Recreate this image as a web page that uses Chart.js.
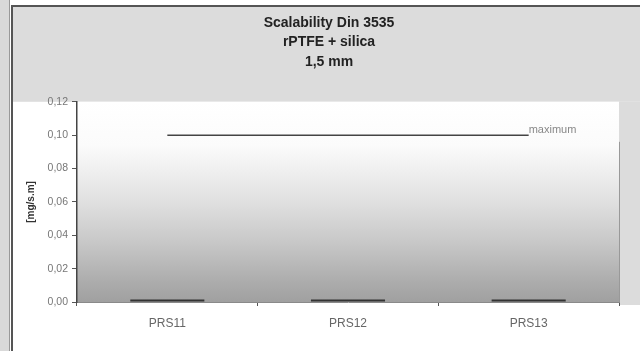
<!DOCTYPE html>
<html>
<head>
<meta charset="utf-8">
<script src="https://cdn.jsdelivr.net/npm/chart.js@4.4.1/dist/chart.umd.min.js"></script>
<style>
  html, body { margin: 0; padding: 0; background: #fff; }
  #wrap { width: 640px; height: 351px; }
</style>
</head>
<body>
<div id="wrap"><canvas id="c" width="640" height="351"></canvas></div>
<script>
'use strict';

// Scanned Excel chart: sealability per sample, with the 0,10 limit drawn as a line
const titleLines = ['Scalability Din 3535', 'rPTFE + silica', '1,5 mm'];
const samples = ['PRS11', 'PRS12', 'PRS13'];
const leakValues = [0.0015, 0.0015, 0.0015];
const maxValues = [0.10, 0.10, 0.10];
const maxLabel = 'maximum';
const yTicks = [0, 0.02, 0.04, 0.06, 0.08, 0.10, 0.12];
const yTitle = '[mg/s.m]';

function commaNum(v) {
  return v.toFixed(2).replace('.', ',');
}

// paper background, frame lines and the grey fade of the plot area
const backdrop = {
  id: 'backdrop',
  beforeDraw(chart) {
    const { ctx, chartArea: a, width, height } = chart;
    ctx.save();
    ctx.fillStyle = '#ffffff';
    ctx.fillRect(0, 0, width, height);
    ctx.fillStyle = '#d9d9d9';
    ctx.fillRect(0, 0, 9, height);
    ctx.fillStyle = '#dcdcdc';
    ctx.fillRect(13, 7, width - 13, a.top - 7);
    ctx.fillRect(a.right, a.top, width - a.right, a.bottom - a.top + 3);

    const g = ctx.createLinearGradient(0, a.top, 0, a.bottom);
    g.addColorStop(0, '#ffffff');
    g.addColorStop(0.22, '#fbfbfb');
    g.addColorStop(0.5, '#e0e0e0');
    g.addColorStop(0.7, '#c8c8c8');
    g.addColorStop(0.9, '#acacac');
    g.addColorStop(1, '#a0a0a0');
    ctx.fillStyle = g;
    ctx.fillRect(a.left, a.top, a.right - a.left, a.bottom - a.top);

    ctx.strokeStyle = '#555';
    ctx.lineWidth = 2;
    ctx.beginPath();
    ctx.moveTo(11, 6); ctx.lineTo(width, 6);
    ctx.moveTo(12, 5); ctx.lineTo(12, height);
    ctx.stroke();
    ctx.strokeStyle = '#999';
    ctx.lineWidth = 1;
    ctx.beginPath();
    ctx.moveTo(9.5, 0); ctx.lineTo(9.5, height);
    ctx.moveTo(a.right + 0.5, a.top + 40); ctx.lineTo(a.right + 0.5, a.bottom + 4);
    ctx.stroke();
    ctx.restore();
  },
  afterDatasetsDraw(chart) {
    const meta = chart.getDatasetMeta(1);
    const last = meta.data[meta.data.length - 1];
    if (!last) return;
    const { ctx } = chart;
    ctx.save();
    ctx.font = '11px "Liberation Sans", Arial, sans-serif';
    ctx.fillStyle = '#888';
    ctx.textAlign = 'left';
    ctx.textBaseline = 'middle';
    ctx.fillText(maxLabel, last.x, last.y - 5);
    ctx.restore();
  }
};

new Chart(document.getElementById('c'), {
  type: 'bar',
  data: {
    labels: samples,
    datasets: [{
      label: 'leakage',
      data: leakValues,
      backgroundColor: '#333333',
      borderWidth: 0,
      categoryPercentage: 1,
      barPercentage: 0.41,
      order: 2,
    }, {
      type: 'line',
      label: maxLabel,
      data: maxValues,
      borderColor: '#444444',
      borderWidth: 1.5,
      pointRadius: 0,
      fill: false,
      order: 1,
    }],
  },
  options: {
    responsive: false,
    animation: false,
    devicePixelRatio: 1,
    layout: { padding: { left: 18, right: 0, top: 0, bottom: 0 } },
    plugins: {
      legend: { display: false },
      tooltip: { enabled: false },
      title: {
        display: true,
        text: titleLines,
        color: '#222',
        font: { family: '"Liberation Sans", Arial, sans-serif', size: 14, weight: 'bold', lineHeight: 1.4 },
        padding: { top: 13, bottom: 30 },
      },
    },
    scales: {
      x: {
        offset: true,
        grid: { display: true, drawOnChartArea: false, offset: true, tickLength: 4, color: '#555' },
        border: { display: true, color: '#8a8a8a', width: 1 },
        ticks: { color: '#666', padding: 10, font: { family: '"Liberation Sans", Arial, sans-serif', size: 12 } },
        afterFit: (s) => { s.height = 49; },
      },
      y: {
        min: 0,
        max: 0.12,
        afterBuildTicks: (s) => { s.ticks = yTicks.map(v => ({ value: v })); },
        grid: { display: true, drawOnChartArea: false, tickLength: 5, color: '#555' },
        border: { display: true, color: '#444', width: 1.5 },
        ticks: {
          color: '#777',
          padding: 4,
          font: { family: '"Liberation Sans", Arial, sans-serif', size: 10.5 },
          callback: (v) => commaNum(v),
        },
        title: {
          display: true,
          text: yTitle,
          color: '#333',
          font: { family: '"Liberation Sans", Arial, sans-serif', size: 10, weight: 'bold' },
          padding: { top: 7, bottom: 0 },
        },
        afterFit: (s) => { s.width = 59; },
      },
      yRight: {
        position: 'right',
        display: true,
        grid: { display: false },
        border: { display: false },
        ticks: { display: false },
        afterFit: (s) => { s.width = 21; },
      },
    },
  },
  plugins: [backdrop],
});
</script>
</body>
</html>
